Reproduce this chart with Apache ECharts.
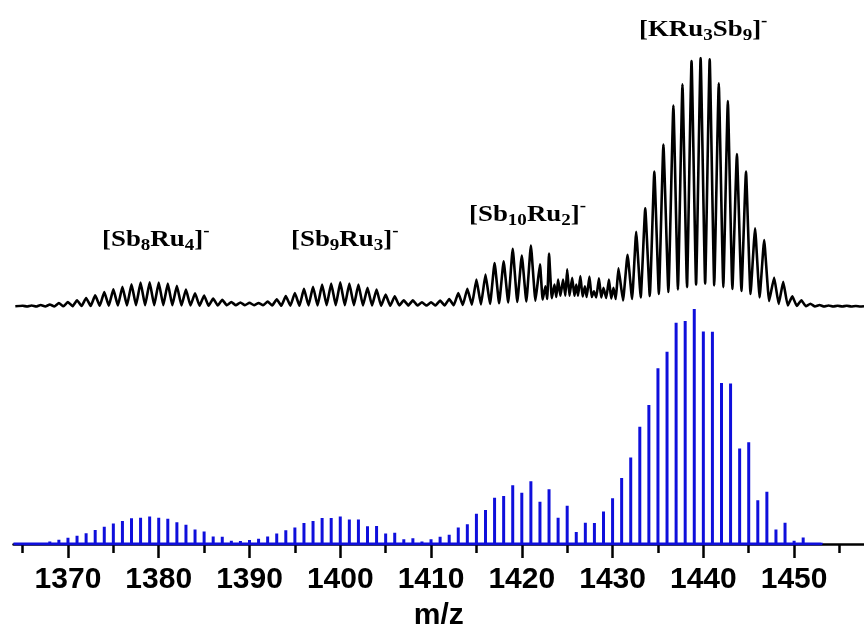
<!DOCTYPE html>
<html>
<head>
    <meta charset="UTF-8">
    <title>KRu3Sb9 ESI-MS</title>
    <script src="https://cdn.jsdelivr.net/npm/echarts@6/dist/echarts.min.js"></script>
</head>
<style>
    body {
        margin: 0;
        padding: 0;
        background: #fff;
    }
    #main {
        width: 864px;
        height: 632px;
    }
</style>
<body>
<div id="main"></div>
<script type="text/javascript">
    // simulated isotope pattern (blue sticks), relative intensity in %
    var simMz = [1364, 1365, 1366, 1367, 1368, 1369, 1370, 1371, 1372, 1373, 1374, 1375, 1376, 1377, 1378, 1379,
        1380, 1381, 1382, 1383, 1384, 1385, 1386, 1387, 1388, 1389, 1390, 1391, 1392, 1393, 1394, 1395,
        1396, 1397, 1398, 1399, 1400, 1401, 1402, 1403, 1404, 1405, 1406, 1407, 1408, 1409, 1410, 1411,
        1412, 1413, 1414, 1415, 1416, 1417, 1418, 1419, 1420, 1421, 1422, 1423, 1424, 1425, 1426, 1427,
        1428, 1429, 1430, 1431, 1432, 1433, 1434, 1435, 1436, 1437, 1438, 1439, 1440, 1441, 1442, 1443,
        1444, 1445, 1446, 1447, 1448, 1449, 1450, 1451, 1452, 1453];
    var simInt = [0.1, 0.3, 0.6, 0.7, 1.1, 1.8, 2.7, 3.5, 4.6, 6.0, 7.3, 8.7, 9.8, 11.0, 11.2, 11.7,
        11.2, 10.7, 9.3, 8.2, 6.2, 5.3, 3.2, 3.1, 1.4, 1.3, 1.7, 2.2, 3.2, 4.5, 5.9, 7.0,
        8.9, 9.8, 11.1, 11.1, 11.7, 10.4, 10.4, 7.6, 7.7, 4.5, 4.8, 2.0, 2.4, 1.1, 2.0, 3.1,
        3.9, 7.0, 8.4, 12.9, 14.5, 19.7, 20.4, 25.0, 21.8, 26.7, 18.0, 23.3, 11.2, 16.3, 5.1, 9.0,
        8.9, 13.8, 19.5, 28.1, 36.8, 49.9, 59.1, 74.8, 81.8, 94.2, 94.9, 100, 90.4, 90.3, 68.5, 68.3,
        40.6, 43.3, 18.6, 22.2, 6.2, 9.0, 1.4, 2.8, 0.4, 0.5];

    var expMz = [1364.2, 1365, 1365.5, 1366, 1366.5, 1367, 1367.5, 1368, 1368.5, 1369, 1369.5,
        1370, 1370.5, 1371, 1371.5, 1372, 1372.5, 1373, 1373.5, 1374, 1374.5, 1375, 1375.5,
        1376, 1376.5, 1377, 1377.5, 1378, 1378.5, 1379, 1379.5, 1380, 1380.5, 1381, 1381.5,
        1382, 1382.5, 1383, 1383.5, 1384, 1384.5, 1385, 1385.5, 1386, 1386.5, 1387, 1387.5,
        1388, 1388.5, 1389, 1389.5, 1390, 1390.5, 1391, 1391.5, 1392, 1392.5, 1393, 1393.5,
        1394, 1394.5, 1395, 1395.5, 1396, 1396.5, 1397, 1397.5, 1398, 1398.5, 1399, 1399.5,
        1400, 1400.5, 1401, 1401.5, 1402, 1402.5, 1403, 1403.5, 1404, 1404.5, 1405, 1405.5,
        1406, 1406.5, 1407, 1407.5, 1408, 1408.5, 1409, 1409.5, 1410, 1410.5, 1411, 1411.5,
        1412, 1412.5, 1413, 1413.5, 1414, 1414.5, 1415, 1415.5, 1416, 1416.5, 1417, 1417.5,
        1418, 1418.5, 1419, 1419.5, 1420, 1420.5, 1421, 1421.5,
        1422, 1422.3, 1422.6, 1422.8, 1423, 1423.3, 1423.6, 1423.8, 1424, 1424.25, 1424.55, 1424.8,
        1425, 1425.25, 1425.55, 1425.8, 1426, 1426.2, 1426.45, 1426.7, 1426.95, 1427.15, 1427.45, 1427.7,
        1427.95, 1428.2, 1428.5, 1428.75, 1429, 1429.3, 1429.6, 1429.85, 1430.1, 1430.35, 1430.65, 1431.15,
        1431.65, 1432.15, 1432.6, 1433.1, 1433.6, 1434.1, 1434.6, 1435.1, 1435.6, 1436.15, 1436.7, 1437.2,
        1437.7, 1438.2, 1438.7, 1439.2, 1439.7, 1440.2, 1440.7, 1441.2, 1441.7, 1442.2, 1442.7, 1443.2,
        1443.7, 1444.2, 1444.7, 1445.2, 1445.7, 1446.2, 1446.7, 1447.25, 1447.8, 1448.3, 1448.8, 1449.3,
        1449.8, 1450.3, 1450.8, 1451.3, 1451.8, 1452.3, 1452.8, 1453.3, 1453.8, 1454.3, 1454.8, 1455.3,
        1455.8, 1456.3, 1456.8, 1457.3, 1457.7];
    var expInt = [0.3, 0.5, 0.2, 0.6, 0.2, 0.8, 0.2, 1.0, 0.2, 1.6, 0.3,
        2.0, 0.3, 2.7, 0.4, 3.6, 0.4, 4.7, 0.5, 6.0, 0.5, 7.1, 0.6,
        8.1, 0.6, 9.1, 0.7, 9.8, 0.7, 9.9, 0.7, 9.8, 0.7, 9.4, 0.7,
        8.5, 0.6, 7.0, 0.6, 5.5, 0.5, 4.6, 0.5, 3.4, 0.6, 2.9, 0.7,
        2.0, 0.7, 1.8, 0.7, 1.7, 0.7, 1.6, 0.7, 2.2, 0.6, 3.1, 0.5,
        4.4, 0.5, 5.6, 0.5, 7.3, 0.6, 8.1, 0.6, 9.0, 0.7, 9.4, 0.7,
        9.9, 0.7, 9.4, 0.7, 9.0, 0.6, 7.7, 0.6, 7.0, 0.5, 5.0, 0.5,
        4.3, 0.6, 2.7, 0.6, 2.7, 0.6, 1.9, 0.6, 1.9, 0.6, 2.6, 0.6,
        3.2, 0.7, 5.6, 0.8, 7.3, 0.9, 11.0, 1.0, 13.0, 1.2, 17.7, 1.5,
        18.4, 1.8, 23.4, 2.0, 20.7, 2.2, 24.7, 2.5,
        17.1, 3.0, 8.3, 3.2, 21.5, 3.5, 9.0, 4.0, 11.0, 4.5, 11.0, 4.5,
        15.1, 4.5, 11.7, 4.5, 9.0, 4.5, 12.4, 4.2, 8.3, 4.0, 12.2, 4.0,
        6.3, 3.8, 11.5, 3.8, 7.7, 3.6, 11.0, 3.4, 7.7, 3.2, 15.5, 2.6,
        21.0, 3.2, 30.2, 3.8, 39.6, 4.4, 54.4, 5.2, 65.2, 6.0, 80.9, 7.0,
        89.4, 8.0, 98.8, 9.0, 100, 9.4, 99.5, 8.7, 89.8, 8.0, 82.7, 7.2,
        61.4, 6.4, 54.4, 5.2, 31.6, 3.8, 26.9, 2.4, 11.8, 1.2, 10.1, 0.6,
        4.3, 0.4, 2.7, 0.3, 1.3, 0.2, 0.8, 0.2, 0.6, 0.2, 0.5, 0.2,
        0.5, 0.2, 0.4, 0.2, 0.3];

    var tickLabels = [1370, 1380, 1390, 1400, 1410, 1420, 1430, 1440, 1450];
    var minorTicks = [1365, 1375, 1385, 1395, 1405, 1415, 1425, 1435, 1445, 1455];
    var xMin = 1364, xMax = 1457.7;

    // sticks: baseline -> top -> baseline for every isotope
    var simLine = [];
    for (var i = 0; i < simMz.length; i++) {
        simLine.push([simMz[i], 0], [simMz[i], simInt[i]], [simMz[i], 0]);
    }
    var expLine = [];
    for (var j = 0; j < expMz.length; j++) {
        expLine.push([expMz[j], expInt[j]]);
    }

    var labelRich = {
        s: {fontSize: 17, fontWeight: 'bold', fontFamily: 'Liberation Serif', padding: [11, 0, 0, 0]},
        p: {fontSize: 17, fontWeight: 'bold', fontFamily: 'Liberation Serif', padding: [0, 0, 16, 0]}
    };
    function ionLabel(x, y, text) {
        return {
            type: 'text', x: x, y: y, scaleX: 1.12,
            style: {
                text: text, fill: '#000',
                font: 'bold 24px "Liberation Serif"',
                verticalAlign: 'middle',
                rich: labelRich
            }
        };
    }

    var myChart = echarts.init(document.getElementById('main'));
    var option = {
        animation: false,
        backgroundColor: '#fff',
        grid: [
            {left: 13.5, right: 0, top: 309, bottom: 85.5},
            {left: 13.5, right: 0, top: 58, height: 249}
        ],
        xAxis: [
            {
                type: 'value', gridIndex: 0, min: xMin, max: xMax,
                axisLine: {lineStyle: {color: '#000', width: 2.5}},
                axisTick: {customValues: tickLabels, length: 14, lineStyle: {color: '#000', width: 2.5}},
                axisLabel: {
                    customValues: tickLabels, margin: 21, color: '#000',
                    fontSize: 30, fontWeight: 'bold', fontFamily: 'Liberation Sans',
                    formatter: function (v) { return String(v); }
                },
                splitLine: {show: false},
                name: 'm/z', nameLocation: 'middle', nameGap: 57,
                nameTextStyle: {color: '#000', fontSize: 30, fontWeight: 'bold', fontFamily: 'Liberation Sans'}
            },
            {
                type: 'value', gridIndex: 0, min: xMin, max: xMax, position: 'bottom',
                axisLine: {show: false},
                axisTick: {customValues: minorTicks, length: 9, lineStyle: {color: '#000', width: 2.5}},
                axisLabel: {show: false},
                splitLine: {show: false}
            },
            {type: 'value', gridIndex: 1, min: xMin, max: xMax, show: false}
        ],
        yAxis: [
            {type: 'value', gridIndex: 0, min: 0, max: 100, show: false},
            {type: 'value', gridIndex: 1, min: 0, max: 100, show: false}
        ],
        series: [
            {
                name: 'simulated', type: 'line', xAxisIndex: 0, yAxisIndex: 0,
                data: simLine, showSymbol: false,
                lineStyle: {color: '#0f0fdc', width: 3}
            },
            {
                name: 'experimental', type: 'line', xAxisIndex: 2, yAxisIndex: 1,
                data: expLine, showSymbol: false, smooth: 0.12,
                lineStyle: {color: '#000', width: 2.6}
            }
        ],
        graphic: [
            ionLabel(102, 240, '[Sb{s|8}Ru{s|4}]{p|-}'),
            ionLabel(291, 240, '[Sb{s|9}Ru{s|3}]{p|-}'),
            ionLabel(469, 215, '[Sb{s|10}Ru{s|2}]{p|-}'),
            ionLabel(639, 30, '[KRu{s|3}Sb{s|9}]{p|-}')
        ]
    };
    myChart.setOption(option);
</script>
</body>
</html>
